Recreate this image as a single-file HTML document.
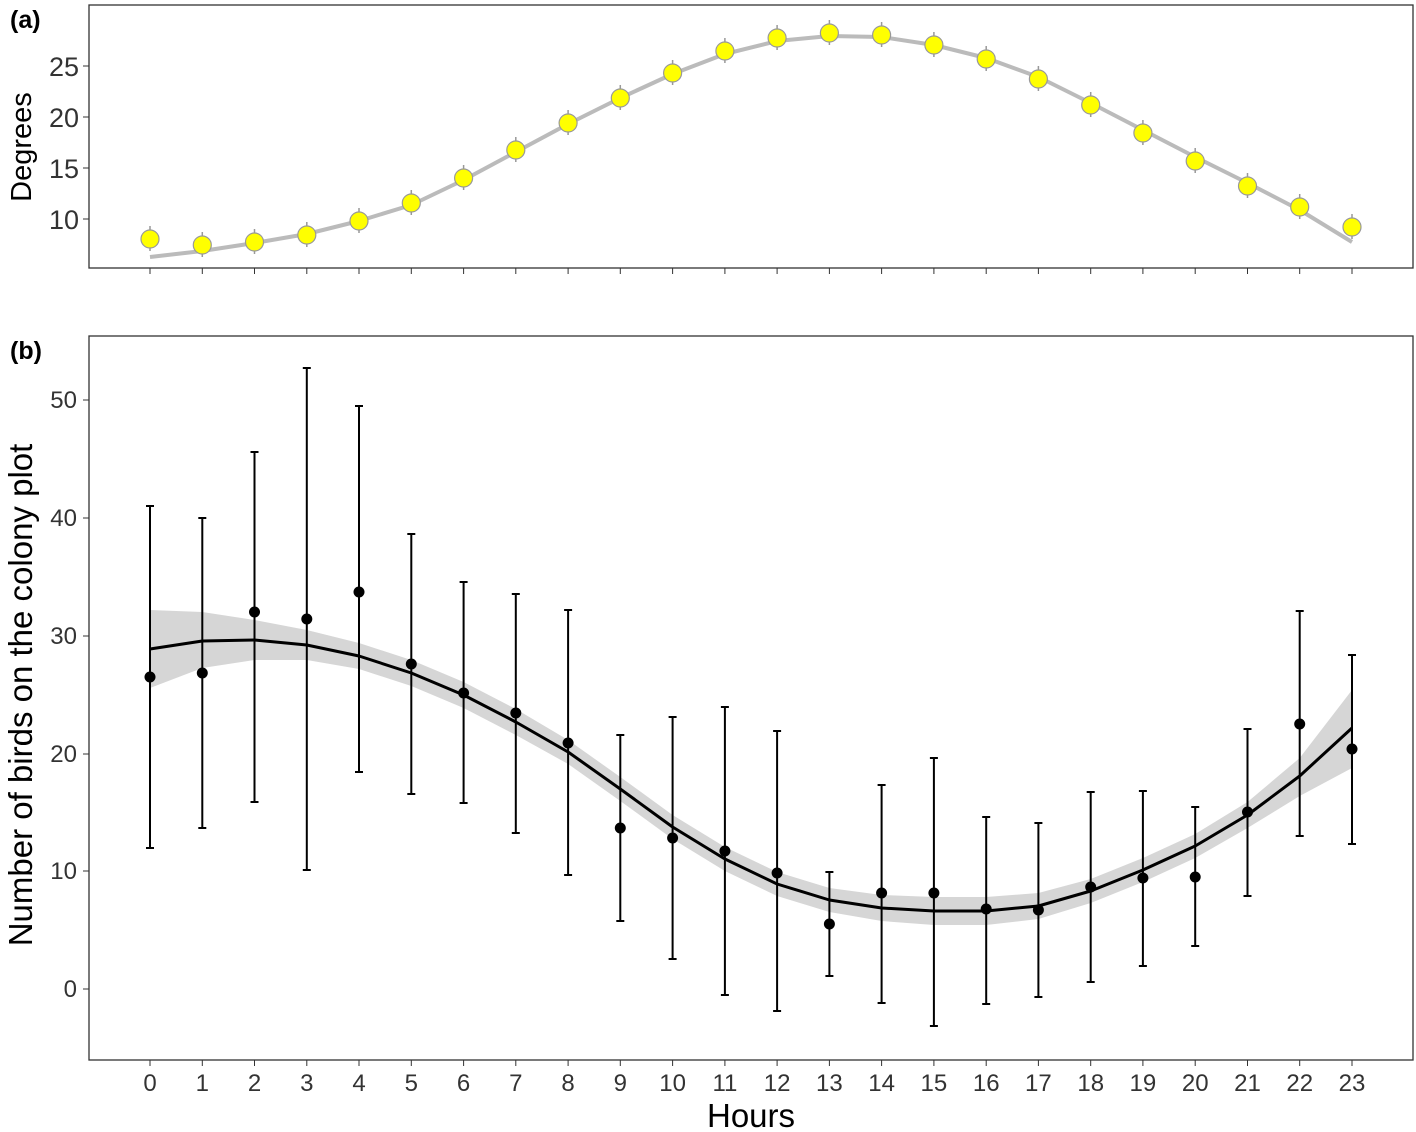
<!DOCTYPE html>
<html><head><meta charset="utf-8"><style>body{margin:0;background:#fff}svg{display:block}text{font-family:"Liberation Sans",sans-serif}</style></head>
<body>
<svg width="1416" height="1132" viewBox="0 0 1416 1132" xmlns="http://www.w3.org/2000/svg">
<rect width="1416" height="1132" fill="#fff"/>
<!-- panel a -->
<rect x="89" y="5" width="1324" height="263" fill="none" stroke="#333" stroke-width="1.3"/>
<text x="10" y="28" font-size="25" font-weight="bold">(a)</text>
<g stroke="#333"><line x1="83" x2="89" y1="66" y2="66"/><line x1="83" x2="89" y1="117" y2="117"/><line x1="83" x2="89" y1="168" y2="168"/><line x1="83" x2="89" y1="219" y2="219"/></g>
<g font-size="27" text-anchor="end" fill="#333"><text x="79" y="76">25</text><text x="79" y="127">20</text><text x="79" y="178">15</text><text x="79" y="229">10</text></g>
<text transform="translate(31,147) rotate(-90)" font-size="29" text-anchor="middle">Degrees</text>
<path d="M150,257 L202.3,251 L254.5,243 L306.8,234 L359,221 L411.3,205 L463.6,180 L515.8,152 L568.1,124 L620.3,98 L672.6,74 L724.9,54 L777.1,41 L829.4,36 L881.6,37 L933.9,45 L986.2,58 L1038.4,77 L1090.7,103 L1142.9,130 L1195.2,157 L1247.5,183 L1299.7,210 L1352,242" fill="none" stroke="#bbb" stroke-width="4" stroke-linejoin="round"/>
<path d="M150,226V251 M202.3,232V257 M254.5,229V254 M306.8,222V247 M359,208V233 M411.3,190V215 M463.6,165V190 M515.8,137V162 M568.1,110V135 M620.3,85V110 M672.6,60V85 M724.9,38V63 M777.1,25V50 M829.4,20V45 M881.6,22V47 M933.9,32V57 M986.2,46V71 M1038.4,66V91 M1090.7,92V117 M1142.9,120V145 M1195.2,148V173 M1247.5,173V198 M1299.7,194V219 M1352,214V239" stroke="#999" stroke-width="1.5"/>
<g fill="#ffff00" stroke="#999" stroke-width="1.2">
<circle cx="150" cy="239" r="9"/><circle cx="202.3" cy="245" r="9"/><circle cx="254.5" cy="242" r="9"/><circle cx="306.8" cy="235" r="9"/><circle cx="359" cy="221" r="9"/><circle cx="411.3" cy="203" r="9"/><circle cx="463.6" cy="178" r="9"/><circle cx="515.8" cy="150" r="9"/><circle cx="568.1" cy="123" r="9"/><circle cx="620.3" cy="98" r="9"/><circle cx="672.6" cy="73" r="9"/><circle cx="724.9" cy="51" r="9"/><circle cx="777.1" cy="38" r="9"/><circle cx="829.4" cy="33" r="9"/><circle cx="881.6" cy="35" r="9"/><circle cx="933.9" cy="45" r="9"/><circle cx="986.2" cy="59" r="9"/><circle cx="1038.4" cy="79" r="9"/><circle cx="1090.7" cy="105" r="9"/><circle cx="1142.9" cy="133" r="9"/><circle cx="1195.2" cy="161" r="9"/><circle cx="1247.5" cy="186" r="9"/><circle cx="1299.7" cy="207" r="9"/><circle cx="1352" cy="227" r="9"/>
</g>
<path d="M150,268v6 M202.3,268v6 M254.5,268v6 M306.8,268v6 M359,268v6 M411.3,268v6 M463.6,268v6 M515.8,268v6 M568.1,268v6 M620.3,268v6 M672.6,268v6 M724.9,268v6 M777.1,268v6 M829.4,268v6 M881.6,268v6 M933.9,268v6 M986.2,268v6 M1038.4,268v6 M1090.7,268v6 M1142.9,268v6 M1195.2,268v6 M1247.5,268v6 M1299.7,268v6 M1352,268v6" stroke="#333"/>

<!-- panel b -->
<rect x="89" y="336" width="1324" height="724" fill="none" stroke="#333" stroke-width="1.3"/>
<text x="10" y="359" font-size="25" font-weight="bold">(b)</text>
<g stroke="#333"><line x1="83" x2="89" y1="400" y2="400"/><line x1="83" x2="89" y1="518" y2="518"/><line x1="83" x2="89" y1="636" y2="636"/><line x1="83" x2="89" y1="754" y2="754"/><line x1="83" x2="89" y1="871" y2="871"/><line x1="83" x2="89" y1="989" y2="989"/></g>
<g font-size="24" text-anchor="end" fill="#333"><text x="77" y="408">50</text><text x="77" y="526">40</text><text x="77" y="644">30</text><text x="77" y="762">20</text><text x="77" y="879">10</text><text x="77" y="997">0</text></g>
<text transform="translate(32,695) rotate(-90)" font-size="33" text-anchor="middle">Number of birds on the colony plot</text>
<path d="M150,610 L202.3,612 L254.5,620 L306.8,630 L359,643 L411.3,660 L463.6,682 L515.8,709 L568.1,740 L620.3,777 L672.6,815 L724.9,847 L777.1,872 L829.4,888 L881.6,895 L933.9,897 L986.2,897 L1038.4,893 L1090.7,879 L1142.9,858 L1195.2,834 L1247.5,802 L1299.7,758 L1352,690 L1352,768 L1299.7,796 L1247.5,828 L1195.2,858 L1142.9,882 L1090.7,903 L1038.4,919 L986.2,925 L933.9,925 L881.6,921 L829.4,912 L777.1,896 L724.9,871 L672.6,839 L620.3,801 L568.1,764 L515.8,735 L463.6,708 L411.3,686 L359,669 L306.8,660 L254.5,660 L202.3,668 L150,688 Z" fill="#d6d6d6"/>
<path d="M150,649 L202.3,641 L254.5,640 L306.8,645 L359,656 L411.3,673 L463.6,695 L515.8,722 L568.1,752 L620.3,789 L672.6,827 L724.9,859 L777.1,884 L829.4,900 L881.6,908 L933.9,911 L986.2,911 L1038.4,906 L1090.7,891 L1142.9,870 L1195.2,846 L1247.5,815 L1299.7,776 L1352,728" fill="none" stroke="#000" stroke-width="3" stroke-linejoin="round"/>
<path stroke="#000" stroke-width="2" fill="none" d="
M150,506V848M146,506h8M146,848h8
M202.3,518V828M198.3,518h8M198.3,828h8
M254.5,452V802M250.5,452h8M250.5,802h8
M306.8,368V870M302.8,368h8M302.8,870h8
M359,406V772M355,406h8M355,772h8
M411.3,534V794M407.3,534h8M407.3,794h8
M463.6,582V803M459.6,582h8M459.6,803h8
M515.8,594V833M511.8,594h8M511.8,833h8
M568.1,610V875M564.1,610h8M564.1,875h8
M620.3,735V921M616.3,735h8M616.3,921h8
M672.6,717V959M668.6,717h8M668.6,959h8
M724.9,707V995M720.9,707h8M720.9,995h8
M777.1,731V1011M773.1,731h8M773.1,1011h8
M829.4,872V976M825.4,872h8M825.4,976h8
M881.6,785V1003M877.6,785h8M877.6,1003h8
M933.9,758V1026M929.9,758h8M929.9,1026h8
M986.2,817V1004M982.2,817h8M982.2,1004h8
M1038.4,823V997M1034.4,823h8M1034.4,997h8
M1090.7,792V982M1086.7,792h8M1086.7,982h8
M1142.9,791V966M1138.9,791h8M1138.9,966h8
M1195.2,807V946M1191.2,807h8M1191.2,946h8
M1247.5,729V896M1243.5,729h8M1243.5,896h8
M1299.7,611V836M1295.7,611h8M1295.7,836h8
M1352,655V844M1348,655h8M1348,844h8"/>
<g fill="#000">
<circle cx="150" cy="677" r="5.5"/><circle cx="202.3" cy="673" r="5.5"/><circle cx="254.5" cy="612" r="5.5"/><circle cx="306.8" cy="619" r="5.5"/><circle cx="359" cy="592" r="5.5"/><circle cx="411.3" cy="664" r="5.5"/><circle cx="463.6" cy="693" r="5.5"/><circle cx="515.8" cy="713" r="5.5"/><circle cx="568.1" cy="743" r="5.5"/><circle cx="620.3" cy="828" r="5.5"/><circle cx="672.6" cy="838" r="5.5"/><circle cx="724.9" cy="851" r="5.5"/><circle cx="777.1" cy="873" r="5.5"/><circle cx="829.4" cy="924" r="5.5"/><circle cx="881.6" cy="893" r="5.5"/><circle cx="933.9" cy="893" r="5.5"/><circle cx="986.2" cy="909" r="5.5"/><circle cx="1038.4" cy="910" r="5.5"/><circle cx="1090.7" cy="887" r="5.5"/><circle cx="1142.9" cy="878" r="5.5"/><circle cx="1195.2" cy="877" r="5.5"/><circle cx="1247.5" cy="812" r="5.5"/><circle cx="1299.7" cy="724" r="5.5"/><circle cx="1352" cy="749" r="5.5"/>
</g>
<path d="M150,1060v6 M202.3,1060v6 M254.5,1060v6 M306.8,1060v6 M359,1060v6 M411.3,1060v6 M463.6,1060v6 M515.8,1060v6 M568.1,1060v6 M620.3,1060v6 M672.6,1060v6 M724.9,1060v6 M777.1,1060v6 M829.4,1060v6 M881.6,1060v6 M933.9,1060v6 M986.2,1060v6 M1038.4,1060v6 M1090.7,1060v6 M1142.9,1060v6 M1195.2,1060v6 M1247.5,1060v6 M1299.7,1060v6 M1352,1060v6" stroke="#333"/>
<g font-size="24" text-anchor="middle" fill="#333">
<text x="150" y="1091">0</text><text x="202.3" y="1091">1</text><text x="254.5" y="1091">2</text><text x="306.8" y="1091">3</text><text x="359" y="1091">4</text><text x="411.3" y="1091">5</text><text x="463.6" y="1091">6</text><text x="515.8" y="1091">7</text><text x="568.1" y="1091">8</text><text x="620.3" y="1091">9</text><text x="672.6" y="1091">10</text><text x="724.9" y="1091">11</text><text x="777.1" y="1091">12</text><text x="829.4" y="1091">13</text><text x="881.6" y="1091">14</text><text x="933.9" y="1091">15</text><text x="986.2" y="1091">16</text><text x="1038.4" y="1091">17</text><text x="1090.7" y="1091">18</text><text x="1142.9" y="1091">19</text><text x="1195.2" y="1091">20</text><text x="1247.5" y="1091">21</text><text x="1299.7" y="1091">22</text><text x="1352" y="1091">23</text>
</g>
<text x="751" y="1127" font-size="33" text-anchor="middle">Hours</text>
</svg>
</body></html>
